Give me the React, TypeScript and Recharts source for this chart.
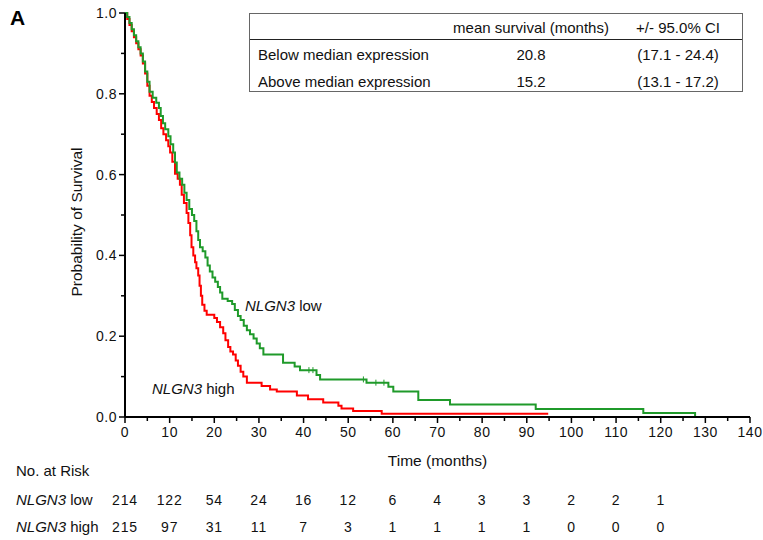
import { ComposedChart, Line, Scatter, XAxis, YAxis } from "recharts";

// Kaplan-Meier steps (months, survival probability)
const lowTimes = [
  0, 0.5, 1, 1.5, 2, 2.5, 3, 3.5, 4, 4.5, 5, 5.5, 6.2, 7, 7.6, 8, 8.5, 9, 9.7, 10.2,
  10.8, 11.2, 11.6, 12.2, 12.8, 13.3, 13.8, 14.4, 15, 15.5, 16, 16.4, 16.8, 17.4, 18,
  18.5, 19, 19.6, 20.2, 20.8, 21.3, 21.8, 23, 24, 24.6, 25.3, 25.9, 26.6, 27.3, 28,
  28.8, 29.5, 30.2, 31, 35.4, 38, 39.2, 42.9, 43.7, 54.1, 59, 60.1, 65.7, 72.8, 92,
  116.1, 127.7,
];
const lowSurv = [
  1, 0.99, 0.975, 0.96, 0.945, 0.93, 0.915, 0.9, 0.88, 0.855, 0.83, 0.805, 0.79, 0.778,
  0.765, 0.745, 0.727, 0.712, 0.695, 0.675, 0.655, 0.63, 0.605, 0.59, 0.575, 0.555,
  0.537, 0.515, 0.5, 0.485, 0.46, 0.438, 0.42, 0.41, 0.395, 0.375, 0.36, 0.345, 0.335,
  0.322, 0.308, 0.293, 0.287, 0.28, 0.265, 0.25, 0.24, 0.226, 0.215, 0.205, 0.194,
  0.182, 0.17, 0.155, 0.134, 0.125, 0.116, 0.104, 0.093, 0.085, 0.075, 0.063, 0.042,
  0.031, 0.02, 0.01, 0,
];
const lowCensored = [41.2, 42.1, 53.4, 56.2, 58];

const highTimes = [
  0, 0.5, 1, 1.5, 2, 2.5, 3, 3.5, 4, 4.5, 5, 5.5, 6, 6.5, 7.1, 7.6, 8.1, 8.6, 9.2, 9.7,
  10.1, 10.6, 11.2, 11.8, 12.3, 12.7, 13.2, 13.8, 14.2, 14.6, 14.9, 15.3, 15.7, 16,
  16.4, 16.7, 17, 17.3, 17.8, 18.3, 20, 20.6, 21.3, 22, 22.5, 23.1, 23.6, 24.2, 24.8,
  25.3, 25.9, 26.5, 27.3, 30.6, 32.5, 34, 38.5, 41, 44.4, 47.8, 48.5, 51.1, 57.5, 94.8,
];
const highSurv = [
  1, 0.985, 0.97, 0.955, 0.94, 0.925, 0.91, 0.895, 0.875, 0.85, 0.82, 0.795, 0.78,
  0.765, 0.75, 0.735, 0.715, 0.7, 0.685, 0.67, 0.655, 0.632, 0.602, 0.59, 0.575, 0.55,
  0.53, 0.505, 0.48, 0.45, 0.42, 0.4, 0.383, 0.368, 0.35, 0.325, 0.3, 0.278, 0.263,
  0.253, 0.245, 0.235, 0.222, 0.207, 0.19, 0.173, 0.162, 0.155, 0.14, 0.127, 0.112,
  0.1, 0.085, 0.077, 0.068, 0.063, 0.053, 0.044, 0.036, 0.028, 0.021, 0.015, 0.008,
  0.008,
];

const xTicks = [0, 5, 10, 15, 20, 25, 30, 35, 40, 45, 50, 55, 60, 65, 70, 75, 80, 85, 90, 95, 100, 105, 110, 115, 120, 125, 130, 135, 140];
const yTicks = [0, 0.1, 0.2, 0.3, 0.4, 0.5, 0.6, 0.7, 0.8, 0.9, 1];

const riskTimes = [0, 10, 20, 30, 40, 50, 60, 70, 80, 90, 100, 110, 120];
const lowAtRisk = [214, 122, 54, 24, 16, 12, 6, 4, 3, 3, 2, 2, 1];
const highAtRisk = [215, 97, 31, 11, 7, 3, 1, 1, 1, 1, 0, 0, 0];

const tableHeader = ["", "mean survival (months)", "+/- 95.0% CI"];
const tableRows = [
  ["Below median expression", "20.8", "(17.1 - 24.4)"],
  ["Above median expression", "15.2", "(13.1 - 17.2)"],
];

const RED = "#ff0000";
const GREEN = "#1f9a2a";
const FONT = "'Liberation Sans', Arial, sans-serif";

const lowData = lowTimes.map((t, i) => ({ t, s: lowSurv[i] }));
const highData = highTimes.map((t, i) => ({ t, s: highSurv[i] }));

function stepValue(times: number[], surv: number[], t: number) {
  let v = surv[0];
  for (let i = 0; i < times.length; i++) if (times[i] <= t) v = surv[i];
  return v;
}
const censorData = lowCensored.map((t) => ({ t, s: stepValue(lowTimes, lowSurv, t) }));

function XTick(props: any) {
  const { x, y, payload } = props;
  const v = payload.value;
  const major = v % 10 === 0;
  const i = riskTimes.indexOf(v);
  return (
    <g fontFamily={FONT} fill="#111">
      <line x1={x} x2={x} y1={y} y2={y + (major ? 6 : 4)} stroke="#000" strokeWidth={1.5} />
      {major && (
        <text x={x} y={y + 20} textAnchor="middle" fontSize={14} letterSpacing={0.5}>
          {v}
        </text>
      )}
      {i >= 0 && (
        <text x={x} y={y + 88} textAnchor="middle" fontSize={14} letterSpacing={0.8}>
          {lowAtRisk[i]}
        </text>
      )}
      {i >= 0 && (
        <text x={x} y={y + 115} textAnchor="middle" fontSize={14} letterSpacing={0.8}>
          {highAtRisk[i]}
        </text>
      )}
    </g>
  );
}

function YTick(props: any) {
  const { x, y, payload } = props;
  const v = payload.value;
  const major = Math.round(v * 10) % 2 === 0;
  return (
    <g fontFamily={FONT} fill="#111">
      <line x1={x - (major ? 6 : 4)} x2={x} y1={y} y2={y} stroke="#000" strokeWidth={1.5} />
      {major && (
        <text x={x - 8} y={y + 5} textAnchor="end" fontSize={14} letterSpacing={0.5}>
          {v.toFixed(1)}
        </text>
      )}
    </g>
  );
}

function CensorMark(props: any) {
  const { cx, cy } = props;
  return <line x1={cx} x2={cx} y1={cy - 3} y2={cy + 3} stroke={GREEN} strokeWidth={1} />;
}

function XLabel(props: any) {
  const { viewBox } = props;
  const cx = viewBox.x + viewBox.width / 2;
  const top = viewBox.y;
  return (
    <g fontFamily={FONT} fill="#111" fontSize={15}>
      <text x={cx} y={top + 49} textAnchor="middle" fontSize={15.5}>
        Time (months)
      </text>
      <text x={16} y={top + 59}>No. at Risk</text>
      <text x={16} y={top + 88}>
        <tspan fontStyle="italic">NLGN3</tspan> low
      </text>
      <text x={16} y={top + 115}>
        <tspan fontStyle="italic">NLGN3</tspan> high
      </text>
    </g>
  );
}

function YLabel() {
  return (
    <text
      x={82}
      y={222}
      transform="rotate(-90 82 222)"
      textAnchor="middle"
      fontFamily={FONT}
      fontSize={15.5}
      fill="#111"
    >
      Probability of Survival
    </text>
  );
}

const cellStyle = { position: "absolute" as const, fontSize: 15, lineHeight: "18px", color: "#111", whiteSpace: "nowrap" as const };

export default function App() {
  return (
    <div style={{ position: "absolute", left: 0, top: 0, width: 763, height: 540, background: "#fff", fontFamily: FONT }}>
      <ComposedChart width={763} height={540} margin={{ top: 13, right: 13, bottom: 0, left: 0 }}>
        <XAxis
          dataKey="t"
          type="number"
          domain={[0, 140]}
          ticks={xTicks}
          interval={0}
          height={123}
          tickSize={0}
          tickMargin={0}
          tickLine={false}
          axisLine={{ stroke: "#000", strokeWidth: 2 }}
          tick={<XTick />}
          label={<XLabel />}
        />
        <YAxis
          dataKey="s"
          type="number"
          domain={[0, 1]}
          ticks={yTicks}
          interval={0}
          width={125}
          tickSize={0}
          tickMargin={0}
          tickLine={false}
          axisLine={{ stroke: "#000", strokeWidth: 2 }}
          tick={<YTick />}
          label={<YLabel />}
        />
        <Line
          data={highData}
          dataKey="s"
          type="stepAfter"
          stroke={RED}
          strokeWidth={2}
          dot={false}
          isAnimationActive={false}
        />
        <Line
          data={lowData}
          dataKey="s"
          type="stepAfter"
          stroke={GREEN}
          strokeWidth={2}
          dot={false}
          isAnimationActive={false}
        />
        <Scatter data={censorData} dataKey="s" shape={<CensorMark />} isAnimationActive={false} />
      </ComposedChart>

      <div style={{ position: "absolute", left: 10, top: 6, fontSize: 21, fontWeight: "bold", color: "#000" }}>A</div>

      <div style={{ ...cellStyle, left: 245, top: 297 }}>
        <i>NLGN3</i> low
      </div>
      <div style={{ ...cellStyle, left: 152, top: 380 }}>
        <i>NLGN3</i> high
      </div>

      <div
        style={{
          position: "absolute",
          left: 249,
          top: 13,
          width: 492,
          height: 77,
          border: "1px solid #666",
          background: "#fff",
        }}
      >
        <div style={{ position: "absolute", left: 0, right: 0, top: 25, borderTop: "1.5px solid #222" }} />
        {[tableHeader, ...tableRows].map((row, r) => {
          const top = [5, 32, 59][r];
          return (
            <div key={r}>
              <div style={{ ...cellStyle, left: 8, top }}>{row[0]}</div>
              <div style={{ ...cellStyle, left: 281 - 100, width: 200, textAlign: "center", top }}>{row[1]}</div>
              <div style={{ ...cellStyle, left: 428 - 80, width: 160, textAlign: "center", top }}>{row[2]}</div>
            </div>
          );
        })}
      </div>
    </div>
  );
}
